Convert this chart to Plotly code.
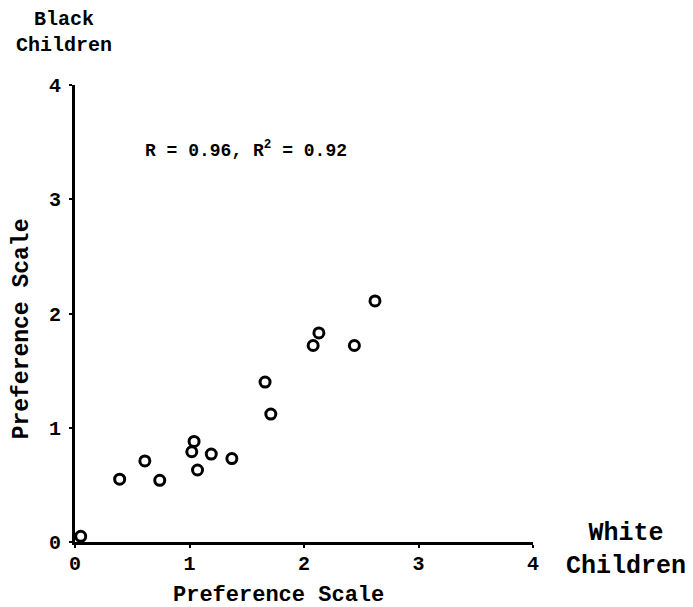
import plotly.graph_objects as go

# Preference scale values
white_children = [0.05, 0.39, 0.61, 0.74, 1.02, 1.04, 1.07, 1.19, 1.37,
                  1.66, 1.71, 2.08, 2.13, 2.44, 2.62]
black_children = [0.05, 0.55, 0.71, 0.54, 0.79, 0.88, 0.63, 0.77, 0.73,
                  1.40, 1.12, 1.72, 1.83, 1.72, 2.11]
tick_vals = [0, 1, 2, 3, 4]
tick_text = ["<b>0</b>", "<b>1</b>", "<b>2</b>", "<b>3</b>", "<b>4</b>"]

FONT = "Liberation Mono"
BLACK = "#000000"

fig = go.Figure()
fig.add_trace(go.Scatter(
    x=white_children, y=black_children, mode="markers",
    marker=dict(symbol="circle-open", size=10, color=BLACK,
                line=dict(width=3, color=BLACK)),
    cliponaxis=False, showlegend=False, hoverinfo="skip",
))

axis_common = dict(
    range=[0, 4], tickvals=tick_vals, ticktext=tick_text,
    showgrid=False, zeroline=False, showline=True, linewidth=3,
    linecolor=BLACK, ticks="outside", ticklen=3, tickwidth=2,
    tickcolor=BLACK, tickfont=dict(family=FONT, size=20, color=BLACK),
)
fig.update_xaxes(**axis_common, ticklabelstandoff=-2)
fig.update_yaxes(**axis_common, ticklabelstandoff=4)

# page body adds an 8px margin; size and margins compensate for it
fig.update_layout(
    width=685, height=599,
    margin=dict(l=67, r=160, t=77, b=65),
    paper_bgcolor="white", plot_bgcolor="white",
    font=dict(family=FONT, color=BLACK),
    annotations=[
        dict(text="<b>Black<br>Children</b>", xref="paper", yref="paper",
             x=-0.024, y=1.115, showarrow=False,
             font=dict(family=FONT, size=20, color=BLACK),
             xanchor="center", yanchor="middle"),
        dict(text="<b>White<br>Children</b>", xref="paper", yref="paper",
             x=1.203, y=-0.018, showarrow=False,
             font=dict(family=FONT, size=25, color=BLACK),
             xanchor="center", yanchor="middle"),
        dict(text="<b>Preference Scale</b>", xref="paper", yref="paper",
             x=0.445, y=-0.116, showarrow=False,
             font=dict(family=FONT, size=22, color=BLACK),
             xanchor="center", yanchor="middle"),
        dict(text="<b>Preference Scale</b>", xref="paper", yref="paper",
             x=-0.115, y=0.466, showarrow=False, textangle=-90,
             font=dict(family=FONT, size=23, color=BLACK),
             xanchor="center", yanchor="middle"),
        dict(text="<b>R = 0.96, R<sup>2</sup> = 0.92</b>", xref="paper",
             yref="paper", x=0.373, y=0.858, showarrow=False,
             font=dict(family=FONT, size=18, color=BLACK),
             xanchor="center", yanchor="middle"),
    ],
)

fig.write_html("out.html")
